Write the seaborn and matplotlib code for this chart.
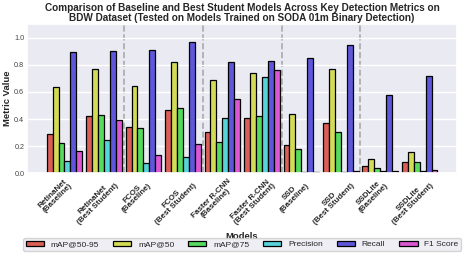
import numpy as np
import matplotlib
matplotlib.use('Agg')
import matplotlib.pyplot as plt
import pandas as pd
import seaborn as sns

models = ['RetinaNet\n(Baseline)', 'RetinaNet\n(Best Student)', 'FCOS\n(Baseline)', 'FCOS\n(Best Student)',
          'Faster R-CNN\n(Baseline)', 'Faster R-CNN\n(Best Student)', 'SSD\n(Baseline)', 'SSD\n(Best Student)',
          'SSDLite\n(Baseline)', 'SSDLite\n(Best Student)']
metrics = ['mAP@50-95', 'mAP@50', 'mAP@75', 'Precision', 'Recall', 'F1 Score']

map5095 = [0.289, 0.425, 0.343, 0.464, 0.306, 0.410, 0.210, 0.368, 0.052, 0.086]
map50 = [0.635, 0.770, 0.642, 0.820, 0.686, 0.741, 0.435, 0.770, 0.104, 0.156]
map75 = [0.222, 0.432, 0.331, 0.479, 0.230, 0.420, 0.178, 0.304, 0.042, 0.081]
precision = [0.089, 0.249, 0.074, 0.123, 0.407, 0.709, 0.007, 0.007, 0.015, 0.015]
recall = [0.894, 0.904, 0.911, 0.965, 0.817, 0.830, 0.852, 0.946, 0.580, 0.719]
f1 = [0.165, 0.393, 0.138, 0.217, 0.546, 0.763, 0.012, 0.015, 0.020, 0.022]

values = [map5095, map50, map75, precision, recall, f1]
rows = []
for metric, vals in zip(metrics, values):
    for m, v in zip(models, vals):
        rows.append({'Model': m, 'Metric': metric, 'Value': v})
df = pd.DataFrame(rows)

sns.set_theme(style='darkgrid')
plt.rcParams['font.family'] = ['Liberation Sans', 'DejaVu Sans']

fig = plt.figure(figsize=(4.68, 2.58), dpi=100)
ax = fig.add_axes([0.058, 0.328, 0.9185, 0.579])

sns.barplot(data=df, x='Model', y='Value', hue='Metric', palette='hls', width=0.9, saturation=1,
            edgecolor='black', linewidth=0.9, errorbar=None, ax=ax)

for xv in [1.5, 3.5, 5.5, 7.5]:
    ax.axvline(xv, color='#aaaaaa', linestyle='--', linewidth=1.2, zorder=0.5)

ax.set_ylim(0, 1.1)
ax.set_xlim(-0.945, 9.945)
ax.set_yticks([0, 0.2, 0.4, 0.6, 0.8, 1.0])
ax.tick_params(axis='y', labelsize=5.2, length=0, pad=2, labelcolor='#444444')
ax.set_xticks(np.arange(len(models)) - 0.225)
ax.set_xticklabels(models, rotation=45, fontsize=5.8, fontweight='bold', linespacing=1.0)
ax.tick_params(axis='x', length=0, pad=3)

ax.set_title('Comparison of Baseline and Best Student Models Across Key Detection Metrics on\n'
             'BDW Dataset (Tested on Models Trained on SODA 01m Binary Detection)',
             fontsize=7.2, fontweight='bold', pad=2.5, linespacing=1.0)
ax.set_ylabel('Metric Value', fontsize=6.8, fontweight='bold')
ax.yaxis.set_label_coords(-0.036, 0.5)
ax.set_xlabel('Models', fontsize=6.8, fontweight='bold')
ax.xaxis.set_label_coords(0.5, -0.39)

handles, labels = ax.get_legend_handles_labels()
ax.legend_.remove()
fig.legend(handles, labels, loc='lower left', ncol=6, fontsize=6, mode='expand',
           bbox_to_anchor=(19 / 468, 3 / 258, 446 / 468, 13 / 258), frameon=True,
           handlelength=2.2, borderpad=0.3)

fig.savefig('out.png', dpi=100)
